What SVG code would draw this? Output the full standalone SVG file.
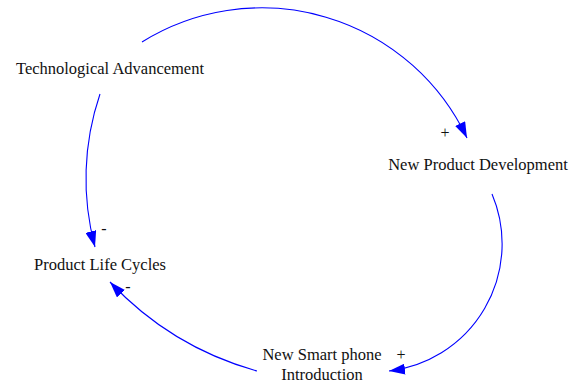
<svg xmlns="http://www.w3.org/2000/svg" width="580" height="383" viewBox="0 0 580 383">
<style>
.lbl{font-family:"Liberation Serif","Times New Roman",serif;font-size:16.5px;fill:#111;text-anchor:middle}
.sgn{font-family:"Liberation Serif","Times New Roman",serif;font-size:16px;fill:#111;text-anchor:middle}
.lnk{fill:none;stroke:#0000ff;stroke-width:1.1;marker-end:url(#ah)}
</style>
<defs>
<marker id="ah" viewBox="0 0 16 11" refX="16" refY="5.5" markerWidth="16" markerHeight="11" markerUnits="userSpaceOnUse" orient="auto">
<path d="M0,0 L16,5.5 L0,11 z" fill="#0000ff"/>
</marker>
</defs>
<rect width="580" height="383" fill="#fff"/>
<g id="connectors">
<path class="lnk" d="M142,42 A227,227 0 0 1 467,138"/>
<path class="lnk" d="M492,194 A128,128 0 0 1 389,371"/>
<path class="lnk" d="M257,371 A319,319 0 0 1 110,282"/>
<path class="lnk" d="M100,94 A263,263 0 0 0 95,247"/>
<text class="sgn" x="445" y="138">+</text>
<text class="sgn" x="401" y="360">+</text>
<text class="sgn" x="128" y="292">-</text>
<text class="sgn" x="104" y="234">-</text>
</g>
<g id="tech"><text class="lbl" x="110" y="74">Technological Advancement</text></g>
<g id="npd"><text class="lbl" x="478" y="170">New Product Development</text></g>
<g id="nsp"><text class="lbl" x="322" y="360">New Smart phone</text><text class="lbl" x="322" y="380">Introduction</text></g>
<g id="plc"><text class="lbl" x="100" y="270">Product Life Cycles</text></g>
</svg>
